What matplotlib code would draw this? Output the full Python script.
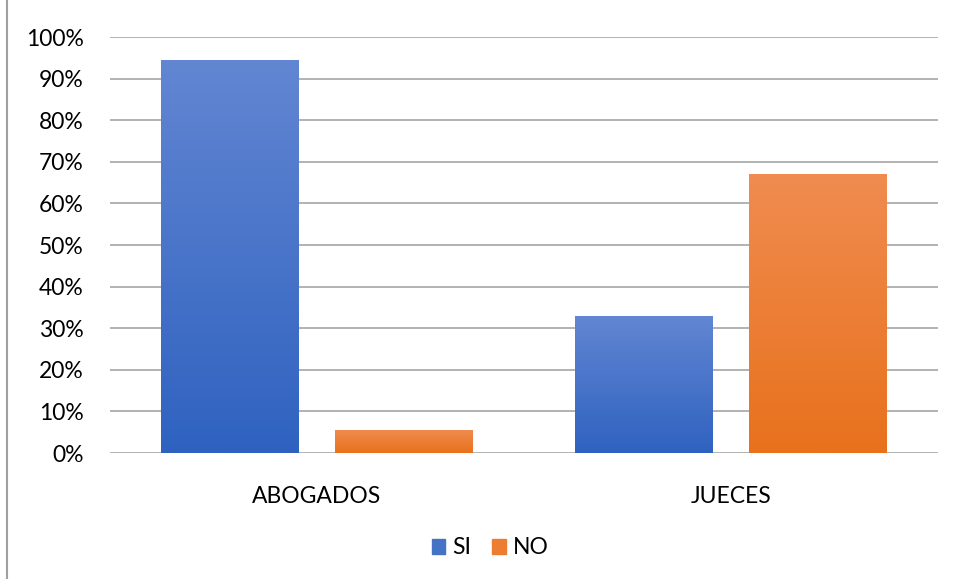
import numpy as np
import matplotlib
matplotlib.use("Agg")
import matplotlib.pyplot as plt
from matplotlib.lines import Line2D
from matplotlib.patches import Patch
from matplotlib.colors import LinearSegmentedColormap

categories = ["ABOGADOS", "JUECES"]
series_names = ["SI", "NO"]
si_values = [94.4, 33.0]
no_values = [5.6, 67.0]
yticks = [0, 10, 20, 30, 40, 50, 60, 70, 80, 90, 100]

plt.rcParams['font.family'] = ['Lato', 'DejaVu Sans']

W, H = 958, 579
fig = plt.figure(figsize=(W / 100, H / 100), dpi=100)
ax = fig.add_axes([110 / W, 1 - 453 / H, (938 - 110) / W, (453 - 37) / H])

x = np.arange(len(categories))
width = 0.333
offset = 0.21

grads = {
    "SI": ("#6286d2", "#2f62c0"),
    "NO": ("#f08c50", "#e8711c"),
}
legend_colors = {"SI": "#4472c4", "NO": "#ed7d31"}

for vals, name, sign in [(si_values, "SI", -1), (no_values, "NO", 1)]:
    bars = ax.bar(x + sign * offset, vals, width, color="none", edgecolor="none", zorder=3)
    top, bot = grads[name]
    cmap = LinearSegmentedColormap.from_list(name, [bot, top])
    grad = np.linspace(0, 1, 256).reshape(-1, 1)
    for b in bars:
        x0, y0 = b.get_x(), b.get_y()
        w, h = b.get_width(), b.get_height()
        im = ax.imshow(grad, extent=[x0, x0 + w, y0, y0 + h], origin="lower",
                       cmap=cmap, aspect="auto", zorder=3)
        im.set_clip_path(b)

ax.set_xlim(-0.5, 1.5)
ax.set_ylim(0, 100)
ax.set_yticks(yticks)
ax.set_yticklabels([f"{v}%" for v in yticks], fontsize=16.5)
ax.set_xticks(x)
ax.set_xticklabels(categories, fontsize=16.5)
ax.tick_params(axis="both", length=0, colors="#000000")
ax.tick_params(axis="y", pad=19)
ax.tick_params(axis="x", pad=24)
ax.yaxis.grid(True, color="#a6a6a6", linewidth=1.2, zorder=0)
ax.set_axisbelow(True)
for s in ax.spines.values():
    s.set_visible(False)

fig.add_artist(Line2D([7 / W, 7 / W], [0, 1], color="#a0a0a0", linewidth=1.5))

handles = [Patch(color=legend_colors[n], label=n) for n in series_names]
fig.legend(handles=handles, loc="center", bbox_to_anchor=(490 / W, 1 - 548 / H),
           ncol=2, frameon=False, fontsize=16.5, handlelength=0.6, handleheight=0.6,
           handletextpad=0.3, columnspacing=0.9)

fig.savefig("out.png", dpi=100, facecolor="white")
